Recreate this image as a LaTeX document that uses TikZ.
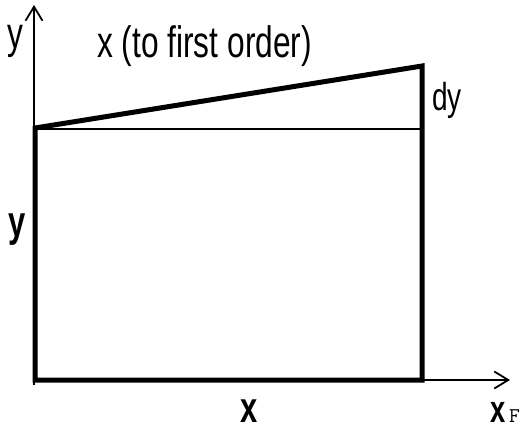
\documentclass[tikz,border=0pt]{standalone}
\usepackage{fontspec}
\setmainfont{Liberation Sans}[FakeStretch=0.72]
\newfontfamily\monoF{Latin Modern Mono}
\usetikzlibrary{arrows.meta}
\tikzset{
  thickline/.style={line width=5pt, line cap=rect},
  thinline/.style={line width=1.8pt},
  axisline/.style={line width=1.8pt, -{Straight Barb[length=14pt,width=17pt,line width=1.8pt]}},
  lbl/.style={inner sep=0pt, anchor=base, font=\fontsize{44}{44}\selectfont},
  blbl/.style={inner sep=0pt, anchor=base, font=\fontsize{43}{43}\selectfont\bfseries},
}
\begin{document}
\begin{tikzpicture}[x=1pt,y=-1pt]
\useasboundingbox (0,0) rectangle (527,429);
% corners
\coordinate (O) at (35,380);
\coordinate (BR) at (422,380);
\coordinate (TL) at (35,128);
\coordinate (TR) at (422,66);
\coordinate (HR) at (422,129);
\coordinate (HL) at (35,129);
\coordinate (ybot) at (34,385);
\coordinate (ytop) at (34,5);
\coordinate (xend) at (510,380);
% axes
\draw[axisline] (ybot) -- (ytop);
\draw[axisline] (BR) -- (xend);
% box
\draw[thinline] (HL) -- (HR);
\draw[thickline] (TR) -- (BR) -- (O) -- (TL) -- cycle;
% labels
\node[lbl] (ylab) at (15.5,48) {y};
\node[lbl, anchor=base west] (title) at (97,57) {x (to first order)};
\node[lbl, anchor=base west, font=\fontsize{39}{39}\selectfont] (dy) at (432,110) {dy};
\node[blbl] (yb) at (17,236) {y};
\node[blbl] (xb) at (249,422) {x};
\node[blbl, anchor=base west, font=\fontsize{38}{38}\selectfont\bfseries] (xf) at (490,422) {x};
\node[inner sep=0pt, anchor=base west, font=\fontsize{21}{21}\selectfont\monoF] (F) at (509,422) {F};
\end{tikzpicture}
\end{document}
